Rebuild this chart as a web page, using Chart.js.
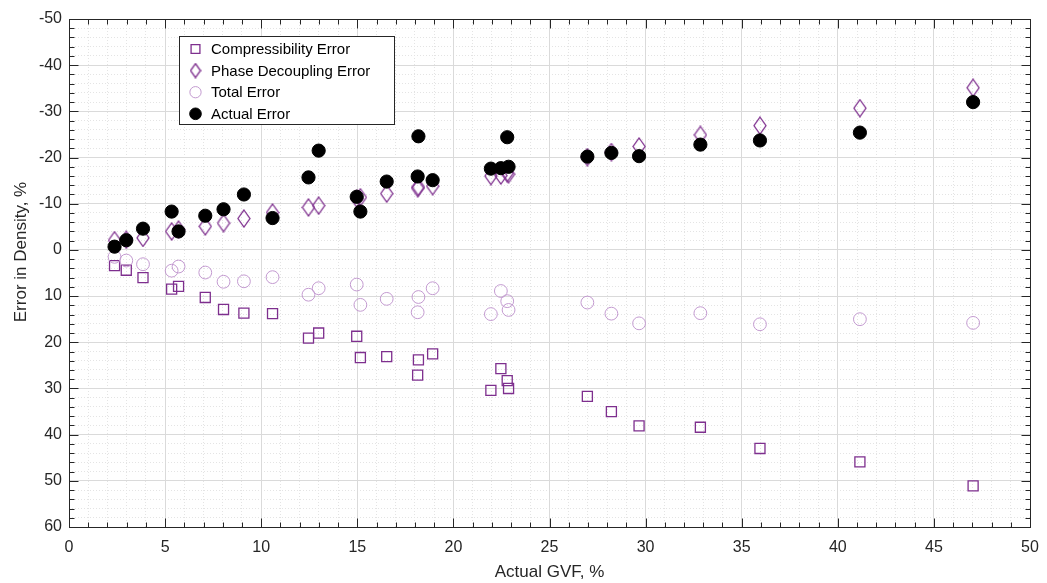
<!DOCTYPE html>
<html>
<head>
<meta charset="utf-8">
<script src="https://cdn.jsdelivr.net/npm/chart.js@4.4.0/dist/chart.umd.min.js"></script>
<style>
html,body{margin:0;padding:0;background:#ffffff;}
#wrap{width:1047px;height:583px;position:relative;}
</style>
</head>
<body>
<div id="wrap"><canvas id="c" width="1047" height="583"></canvas></div>
<script>
// ---------------- DATA ----------------
const gvf = [2.37, 2.98, 3.85, 5.34, 5.70, 7.09, 8.04, 9.10, 10.59, 12.46, 12.99, 14.97, 15.16, 16.53,
             18.14, 18.18, 18.92, 21.95, 22.47, 22.80, 22.87, 26.97, 28.22, 29.66, 32.85, 35.95, 41.15, 47.04];
const compressibilityError = [3.4, 4.4, 6.0, 8.5, 7.9, 10.3, 12.9, 13.7, 13.8, 19.1, 18.0, 18.7, 23.3, 23.1,
             27.1, 23.8, 22.5, 30.4, 25.7, 28.3, 30.0, 31.7, 35.0, 38.1, 38.4, 43.0, 45.9, 51.1];
const phaseDecouplingError = [-2.1, -2.2, -2.6, -4.0, -4.4, -5.1, -5.8, -6.8, -8.1, -9.2, -9.6, -11.1, -11.4, -12.2,
             -13.4, -13.6, -13.8, -16.0, -16.1, -16.6, -16.4, -20.1, -21.2, -22.4, -24.9, -26.9, -30.7, -35.1];
const totalError = [1.5, 2.3, 3.1, 4.5, 3.6, 4.9, 6.9, 6.8, 5.9, 9.7, 8.3, 7.5, 11.9, 10.6,
             13.5, 10.2, 8.3, 13.9, 8.9, 11.1, 13.0, 11.4, 13.8, 15.9, 13.7, 16.1, 15.0, 15.8];
const actualError = [-0.7, -2.1, -4.6, -8.3, -4.0, -7.4, -8.8, -12.0, -6.9, -15.7, -21.5, -11.5, -8.3, -14.8,
             -15.9, -24.6, -15.1, -17.6, -17.7, -24.4, -18.0, -20.2, -21.0, -20.3, -22.8, -23.7, -25.4, -32.0];
const seriesNames = ['Compressibility Error', 'Phase Decoupling Error', 'Total Error', 'Actual Error'];
const xRange = [0, 50];
const yRange = [-50, 60];
const xMajorStep = 5, xMinorStep = 1;
const yMajorStep = 10, yMinorStep = 2;
const xTitle = 'Actual GVF, %';
const yTitle = 'Error in Density, %';

// ---------------- STYLE ----------------
const FONT = "'Liberation Sans', Arial, Helvetica, sans-serif";
const TXT = '#262626';
const PURPLE = '#7e2f8e';
const LIGHTPURPLE = '#c39ad0';

function makeDiamond(w, h, color) {
  const c = document.createElement('canvas');
  c.width = w + 2; c.height = h + 2;
  const g = c.getContext('2d');
  g.strokeStyle = color; g.lineWidth = 1.3;
  g.beginPath();
  g.moveTo(c.width / 2, 1);
  g.lineTo(c.width - 1, c.height / 2);
  g.lineTo(c.width / 2, c.height - 1);
  g.lineTo(1, c.height / 2);
  g.closePath();
  g.stroke();
  return c;
}
const diamond = makeDiamond(12, 17, PURPLE);
const legendDiamond = makeDiamond(10, 14, PURPLE);

const toXY = ys => ys.map((y, i) => ({x: gvf[i], y: y}));

const datasets = [
  {label: seriesNames[0], data: toXY(compressibilityError), pointStyle: 'rect', pointRadius: 7.1,
   borderColor: PURPLE, backgroundColor: 'rgba(0,0,0,0)', borderWidth: 1.3, order: 4},
  {label: seriesNames[1], data: toXY(phaseDecouplingError), pointStyle: diamond, pointRadius: 8,
   borderColor: PURPLE, backgroundColor: 'rgba(0,0,0,0)', borderWidth: 1, order: 3},
  {label: seriesNames[2], data: toXY(totalError), pointStyle: 'circle', pointRadius: 6.4,
   borderColor: LIGHTPURPLE, backgroundColor: 'rgba(0,0,0,0)', borderWidth: 1, order: 2},
  {label: seriesNames[3], data: toXY(actualError), pointStyle: 'circle', pointRadius: 6.6,
   borderColor: '#000000', backgroundColor: '#000000', borderWidth: 1, order: 1}
];

// box + inward ticks + y title + legend inside plot
const boxPlugin = {
  id: 'boxTicks',
  afterDraw(chart) {
    const ctx = chart.ctx, ca = chart.chartArea;
    const L = Math.round(ca.left) + 0.5, R = Math.round(ca.right) + 0.5;
    const T = Math.round(ca.top) + 0.5, B = Math.round(ca.bottom) + 0.5;
    ctx.save();
    ctx.strokeStyle = TXT; ctx.lineWidth = 1;
    const drawX = (scale, len) => {
      scale.ticks.forEach(t => {
        const p = Math.round(scale.getPixelForValue(t.value)) + 0.5;
        ctx.beginPath();
        ctx.moveTo(p, B); ctx.lineTo(p, B - len);
        ctx.moveTo(p, T); ctx.lineTo(p, T + len);
        ctx.stroke();
      });
    };
    const drawY = (scale, len) => {
      scale.ticks.forEach(t => {
        const p = Math.round(scale.getPixelForValue(t.value)) + 0.5;
        ctx.beginPath();
        ctx.moveTo(L, p); ctx.lineTo(L + len, p);
        ctx.moveTo(R, p); ctx.lineTo(R - len, p);
        ctx.stroke();
      });
    };
    drawX(chart.scales.xMinor, 5); drawX(chart.scales.x, 9);
    drawY(chart.scales.yMinor, 5); drawY(chart.scales.y, 9);
    ctx.beginPath();
    ctx.rect(L, T, R - L, B - T);
    ctx.stroke();

    // y axis title
    ctx.save();
    ctx.translate(21, 252);
    ctx.rotate(-Math.PI / 2);
    ctx.font = '17px ' + FONT;
    ctx.fillStyle = TXT;
    ctx.textAlign = 'center';
    ctx.textBaseline = 'middle';
    ctx.fillText(yTitle, 0, 0);
    ctx.restore();

    // legend
    const lx = Math.round(ca.left + 110) + 0.5, ly = Math.round(ca.top + 17) + 0.5;
    const lw = 215, lh = 88;
    ctx.fillStyle = '#ffffff';
    ctx.fillRect(lx, ly, lw, lh);
    ctx.strokeStyle = TXT;
    ctx.strokeRect(lx, ly, lw, lh);
    ctx.font = '15px ' + FONT;
    ctx.textBaseline = 'middle';
    ctx.textAlign = 'left';
    chart.data.datasets.forEach((ds, i) => {
      const cy = ly + 12.5 + i * 21.6;
      const cx = lx + 16;
      ctx.save();
      ctx.strokeStyle = ds.borderColor;
      ctx.fillStyle = ds.backgroundColor;
      ctx.lineWidth = ds.borderWidth;
      const style = ds.pointStyle === diamond ? legendDiamond : ds.pointStyle;
      Chart.helpers.drawPoint(ctx, {pointStyle: style, radius: ds.pointRadius * 0.88,
        rotation: 0, borderWidth: ds.borderWidth}, cx, cy);
      ctx.restore();
      ctx.fillStyle = '#000000';
      ctx.fillText(ds.label, lx + 31.5, cy + 1);
    });
    ctx.restore();
  }
};

new Chart(document.getElementById('c'), {
  type: 'scatter',
  data: {datasets: datasets},
  options: {
    responsive: false,
    animation: false,
    devicePixelRatio: 1,
    layout: {padding: {top: 19, right: 17, bottom: 0, left: 0}},
    plugins: {legend: {display: false}, tooltip: {enabled: false}},
    scales: {
      x: {
        type: 'linear', position: 'bottom', min: xRange[0], max: xRange[1],
        ticks: {stepSize: xMajorStep, maxTicksLimit: 1000, autoSkip: false, maxRotation: 0,
                color: TXT, font: {family: FONT, size: 16}, padding: 11},
        grid: {color: '#dadada', lineWidth: 1, drawTicks: false, z: -1},
        border: {display: false},
        title: {display: true, text: xTitle, color: TXT, font: {family: FONT, size: 17},
                padding: {top: 2, bottom: 0}},
        afterFit: s => { s.height = 56; s.paddingLeft = 0; s.paddingRight = 0; }
      },
      xMinor: {
        type: 'linear', position: 'bottom', min: xRange[0], max: xRange[1],
        ticks: {display: false, stepSize: xMinorStep, maxTicksLimit: 1000, autoSkip: false},
        grid: {color: '#e4e4e4', lineWidth: 1, drawTicks: false, z: -2, borderDash: [1, 2]},
        border: {display: false, dash: [1, 2]},
        afterFit: s => { s.height = 0; s.paddingLeft = 0; s.paddingRight = 0; }
      },
      y: {
        type: 'linear', position: 'left', reverse: true, min: yRange[0], max: yRange[1],
        ticks: {stepSize: yMajorStep, maxTicksLimit: 1000, autoSkip: false,
                color: TXT, font: {family: FONT, size: 16}, padding: 7},
        grid: {color: '#dadada', lineWidth: 1, drawTicks: false, z: -1},
        border: {display: false},
        title: {display: false, text: yTitle},
        afterFit: s => { s.width = 69; s.paddingTop = 0; s.paddingBottom = 0; }
      },
      yMinor: {
        type: 'linear', position: 'left', reverse: true, min: yRange[0], max: yRange[1],
        ticks: {display: false, stepSize: yMinorStep, maxTicksLimit: 1000, autoSkip: false},
        grid: {color: '#e4e4e4', lineWidth: 1, drawTicks: false, z: -2, borderDash: [1, 2]},
        border: {display: false, dash: [1, 2]},
        afterFit: s => { s.width = 0; s.paddingTop = 0; s.paddingBottom = 0; }
      }
    }
  },
  plugins: [boxPlugin]
});
</script>
</body>
</html>
